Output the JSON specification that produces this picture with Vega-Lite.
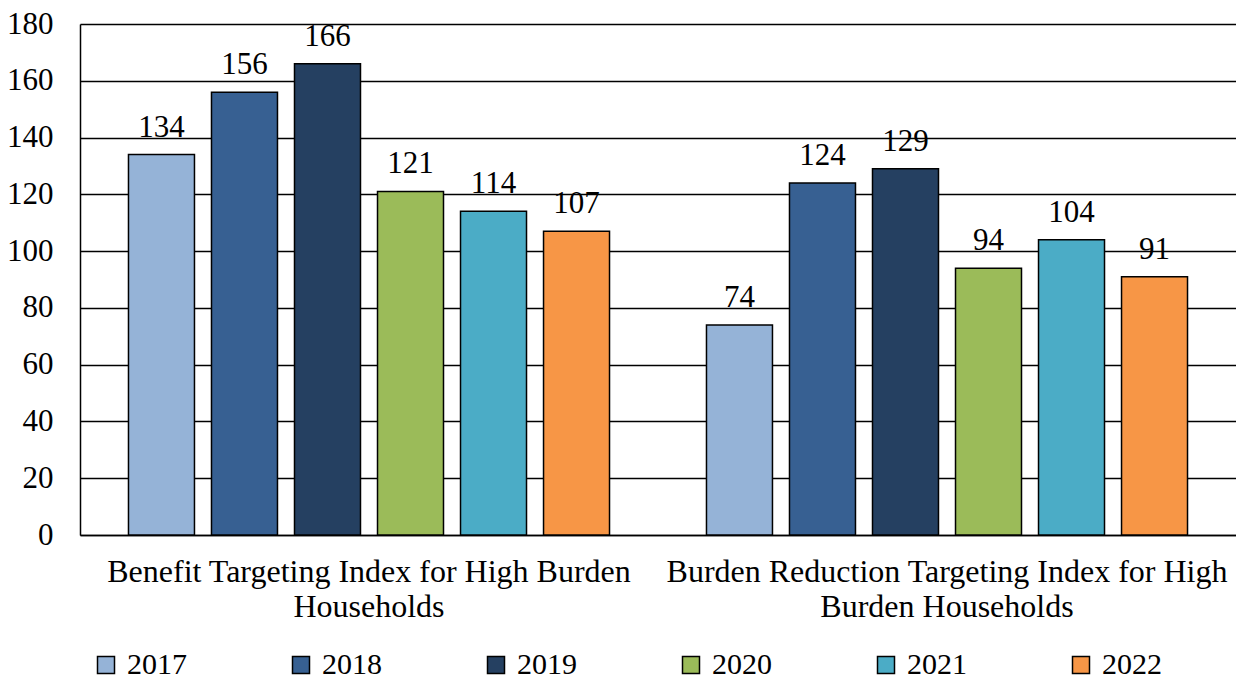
{
  "$schema": "https://vega.github.io/schema/vega-lite/v6.json",
  "width": 1156,
  "height": 511,
  "autosize": {"type": "none"},
  "padding": {"left": 80, "top": 24, "right": 0, "bottom": 148},
  "background": "white",
  "config": {
    "view": {"stroke": null},
    "font": "Liberation Serif"
  },
  "data": {
    "values": [
      {"index": "Benefit Targeting Index for High Burden Households", "year": "2017", "value": 134},
      {"index": "Benefit Targeting Index for High Burden Households", "year": "2018", "value": 156},
      {"index": "Benefit Targeting Index for High Burden Households", "year": "2019", "value": 166},
      {"index": "Benefit Targeting Index for High Burden Households", "year": "2020", "value": 121},
      {"index": "Benefit Targeting Index for High Burden Households", "year": "2021", "value": 114},
      {"index": "Benefit Targeting Index for High Burden Households", "year": "2022", "value": 107},
      {"index": "Burden Reduction Targeting Index for High Burden Households", "year": "2017", "value": 74},
      {"index": "Burden Reduction Targeting Index for High Burden Households", "year": "2018", "value": 124},
      {"index": "Burden Reduction Targeting Index for High Burden Households", "year": "2019", "value": 129},
      {"index": "Burden Reduction Targeting Index for High Burden Households", "year": "2020", "value": 94},
      {"index": "Burden Reduction Targeting Index for High Burden Households", "year": "2021", "value": 104},
      {"index": "Burden Reduction Targeting Index for High Burden Households", "year": "2022", "value": 91}
    ]
  },
  "encoding": {
    "x": {
      "field": "index",
      "type": "nominal",
      "sort": null,
      "title": null,
      "scale": {"paddingInner": 0, "paddingOuter": 0},
      "axis": {
        "labelAngle": 0,
        "ticks": false,
        "domainColor": "black",
        "domainWidth": 1.5,
        "labelFont": "Liberation Serif",
        "labelColor": "black",
        "labelFontSize": 32,
        "labelPadding": 21,
        "labelLineHeight": 35,
        "labelLimit": 0,
        "labelBaseline": "top",
        "labelExpr": "datum.value == 'Benefit Targeting Index for High Burden Households' ? ['Benefit Targeting Index for High Burden', 'Households'] : ['Burden Reduction Targeting Index for High', 'Burden Households']"
      }
    },
    "xOffset": {
      "field": "year",
      "type": "nominal",
      "scale": {"paddingInner": 0.205, "paddingOuter": 0.584}
    },
    "y": {
      "field": "value",
      "type": "quantitative",
      "title": null,
      "scale": {"domain": [0, 180], "nice": false},
      "axis": {
        "values": [0, 20, 40, 60, 80, 100, 120, 140, 160, 180],
        "ticks": false,
        "grid": true,
        "gridColor": "black",
        "gridWidth": 1.5,
        "domainColor": "black",
        "domainWidth": 1.5,
        "labelFont": "Liberation Serif",
        "labelColor": "black",
        "labelFontSize": 31,
        "labelPadding": 27
      }
    }
  },
  "layer": [
    {
      "mark": {"type": "bar", "stroke": "black", "strokeWidth": 1.5},
      "encoding": {
        "color": {
          "field": "year",
          "type": "nominal",
          "title": null,
          "scale": {
            "domain": ["2017", "2018", "2019", "2020", "2021", "2022"],
            "range": ["#95B3D7", "#376092", "#254061", "#9BBB59", "#4BACC6", "#F79646"]
          },
          "legend": {
            "orient": "none",
            "direction": "horizontal",
            "columns": 6,
            "legendX": 11,
            "legendY": 626,
            "symbolType": "square",
            "symbolSize": 289,
            "symbolStrokeColor": "black",
            "symbolStrokeWidth": 1.5,
            "symbolOpacity": 1,
            "labelFont": "Liberation Serif",
            "labelFontSize": 30,
            "labelColor": "black",
            "labelOffset": 6,
            "columnPadding": 99
          }
        }
      }
    },
    {
      "mark": {"type": "text", "font": "Liberation Serif", "fontSize": 31, "baseline": "alphabetic", "dy": -18, "color": "black"},
      "encoding": {"text": {"field": "value", "type": "quantitative"}}
    }
  ]
}
